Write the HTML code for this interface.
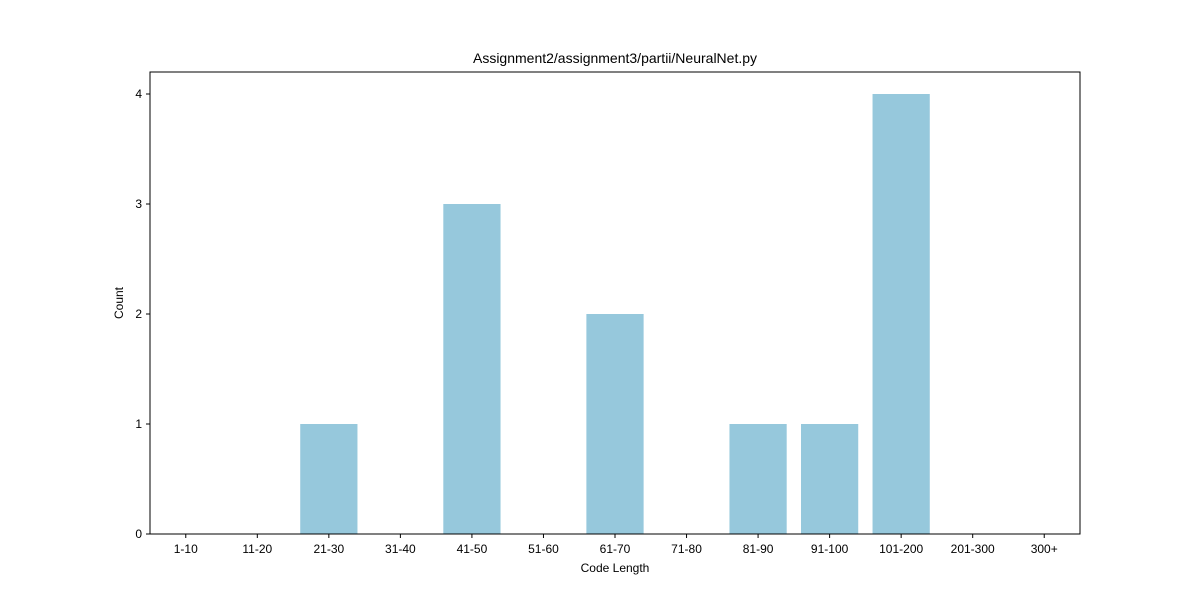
<!DOCTYPE html>
<html><head><meta charset="utf-8"><style>
body{margin:0;background:#fff;}
svg{display:block;font-family:"Liberation Sans","DejaVu Sans",sans-serif;}
</style></head><body>
<svg id="chart" width="1200" height="600" viewBox="0 0 1200 600">
<rect width="1200" height="600" fill="#fff"/>
<text x="615" y="63" text-anchor="middle" font-size="14" fill="#000">Assignment2/assignment3/partii/NeuralNet.py</text>
<g id="bars"></g>
<g id="xticks"></g>
<g id="yticks"></g>
<rect x="150" y="72" width="930" height="462" fill="none" stroke="#000" stroke-width="1"/>
<text x="615" y="572" text-anchor="middle" font-size="12">Code Length</text>
<text transform="translate(123,303) rotate(-90)" text-anchor="middle" font-size="12">Count</text>
</svg>
<script>
const categories=["1-10","11-20","21-30","31-40","41-50","51-60","61-70","71-80","81-90","91-100","101-200","201-300","300+"];
const counts=[0,0,1,0,3,0,2,0,1,1,4,0,0];
const yTicks=[0,1,2,3,4];
const L=150,R=1080,T=72,B=534,yMax=4.2;
const step=(R-L)/categories.length;
const xs=i=>L+step*(i+0.5);
const ys=v=>B-(v/yMax)*(B-T);
const ns="http://www.w3.org/2000/svg";
const bars=document.getElementById('bars'),xt=document.getElementById('xticks'),yt=document.getElementById('yticks');
function mk(tag,attrs,parent){const e=document.createElementNS(ns,tag);for(const k in attrs)e.setAttribute(k,attrs[k]);parent.appendChild(e);return e;}
categories.forEach((c,i)=>{
  const w=step*0.8;
  const r=mk('rect',{x:xs(i)-w/2,y:ys(counts[i]),width:w,height:B-ys(counts[i]),fill:'#96c8dc'},bars);
  
  
  mk('line',{x1:xs(i),x2:xs(i),y1:B,y2:B+4,stroke:'#000'},xt);
  const t=mk('text',{x:xs(i),y:B+19,'text-anchor':'middle','font-size':'12'},xt);
  t.textContent=c;
  
  
});
yTicks.forEach(v=>{
  mk('line',{x1:L-4,x2:L,y1:ys(v),y2:ys(v),stroke:'#000'},yt);
  const t=mk('text',{x:L-8,y:ys(v)+4,'text-anchor':'end','font-size':'12'},yt);
  t.textContent=v;
  
  
});
</script>
</body></html>
